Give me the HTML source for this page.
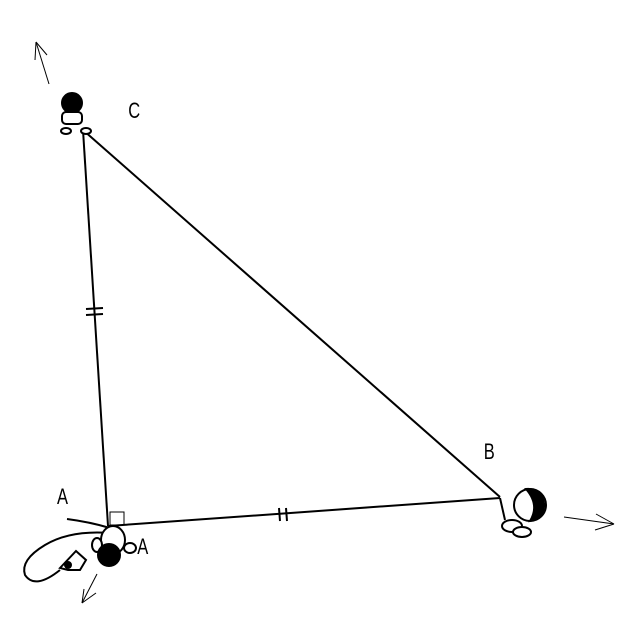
<!DOCTYPE html>
<html><head><style>body{margin:0;background:#fff}svg{display:block}text{font-family:"Liberation Sans",sans-serif;font-size:22px}</style></head><body>
<svg width="640" height="640" viewBox="0 0 640 640" xmlns="http://www.w3.org/2000/svg">
<g stroke="#000" stroke-width="2" fill="none">
<line x1="83" y1="130" x2="108" y2="526"/>
<line x1="83" y1="130" x2="500" y2="497"/>
<line x1="108" y1="526" x2="500" y2="498"/>
<line x1="86" y1="309" x2="103" y2="308"/>
<line x1="86" y1="315" x2="103" y2="314"/>
<line x1="279" y1="508" x2="280" y2="521"/>
<line x1="286" y1="508" x2="287" y2="521"/>
<rect x="110" y="512" width="14" height="13" stroke-width="1"/>
<path d="M67 519 Q90 522 110 528"/>
<path d="M110 533 Q70 530 45 545 Q20 560 25 575 Q35 590 60 570"/>
</g>
<g stroke="#000" stroke-width="1" fill="none">
<line x1="49" y1="84" x2="36" y2="42"/><line x1="36" y1="42" x2="35" y2="60"/><line x1="36" y1="42" x2="47" y2="55"/>
<line x1="564" y1="517" x2="614" y2="524"/><line x1="614" y1="524" x2="596" y2="514"/><line x1="614" y1="524" x2="595" y2="530"/>
<line x1="97" y1="574" x2="82" y2="603"/><line x1="82" y1="603" x2="84" y2="589"/><line x1="82" y1="603" x2="96" y2="593"/>
</g>
<g stroke="#000" stroke-width="2">
<circle cx="72" cy="103" r="10" fill="#000"/>
<rect x="62" y="112" width="20" height="12" rx="4" fill="#fff"/>
<ellipse cx="66" cy="131" rx="5" ry="3" fill="#fff"/>
<ellipse cx="86" cy="131" rx="5" ry="3" fill="#fff"/>
</g>
<g stroke="#000" stroke-width="2">
<circle cx="530" cy="505" r="16" fill="#fff"/>
<path d="M526 489 A16 16 0 0 1 530 521 Q540 505 526 489Z" fill="#000"/>
<ellipse cx="512" cy="526" rx="10" ry="6" fill="#fff"/>
<ellipse cx="522" cy="532" rx="9" ry="5" fill="#fff"/>
<line x1="500" y1="498" x2="505" y2="520"/>
</g>
<g stroke="#000" stroke-width="2">
<ellipse cx="113" cy="540" rx="12" ry="14" fill="#fff"/>
<ellipse cx="97" cy="545" rx="5" ry="7" fill="#fff"/>
<ellipse cx="130" cy="548" rx="6" ry="5" fill="#fff"/>
<circle cx="109" cy="555" r="11" fill="#000"/>
<path d="M60 568 L76 551 L86 560 L80 570 L68 570Z" fill="#fff"/>
<circle cx="68" cy="565" r="3" fill="#000"/>
</g>
<g transform="scale(0.75,1)">
<text x="171" y="118">C</text>
<text x="645" y="459">B</text>
<text x="76" y="504">A</text>
<text x="183" y="554">A</text>
</g>
</svg>
</body></html>
